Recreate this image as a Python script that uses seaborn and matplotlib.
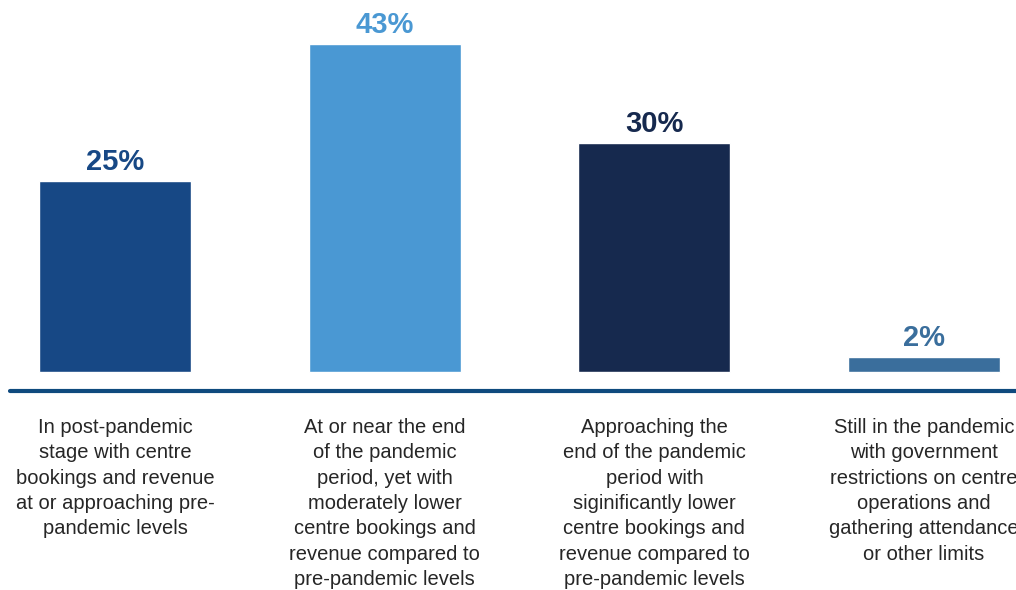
import matplotlib
matplotlib.use("Agg")
import matplotlib.pyplot as plt
import seaborn as sns
import pandas as pd

categories = [
    "In post-pandemic\nstage with centre\nbookings and revenue\nat or approaching pre-\npandemic levels",
    "At or near the end\nof the pandemic\nperiod, yet with\nmoderately lower\ncentre bookings and\nrevenue compared to\npre-pandemic levels",
    "Approaching the\nend of the pandemic\nperiod with\nsiginificantly lower\ncentre bookings and\nrevenue compared to\npre-pandemic levels",
    "Still in the pandemic\nwith government\nrestrictions on centre\noperations and\ngathering attendance\nor other limits",
]
shares = [25, 43, 30, 2]
bar_colors = ["#174885", "#4a98d3", "#16294e", "#3a6e9c"]

sns.set_theme(style="white")
plt.rcParams["font.family"] = ["Liberation Sans", "DejaVu Sans"]

W, H = 1016, 590
fig = plt.figure(figsize=(W / 100, H / 100), dpi=100)

# axes span the full width; value 0 sits at pixel row 372
px_per_unit = 7.63
y_zero = 372
ax_bottom_px = 400
ax = fig.add_axes([0, (H - ax_bottom_px) / H, 1, ax_bottom_px / H])

df = pd.DataFrame({"cat": categories, "share": shares})
sns.barplot(data=df, x="cat", y="share", hue="cat", palette=bar_colors,
            legend=False, width=152 / 269.67, saturation=1, ax=ax)

step = 269.67
c0 = 115
ax.set_xlim(-c0 / step, (W - c0) / step)
ax.set_ylim(-(ax_bottom_px - y_zero) / px_per_unit, y_zero / px_per_unit)

for i, (v, col) in enumerate(zip(shares, bar_colors)):
    ax.annotate(f"{v}%", (i, v), xytext=(0, 3.5), textcoords="offset points",
                ha="center", va="bottom", fontsize=21, fontweight="bold",
                color=col)

# baseline rule below the bars
ax.axhline(-(391 - y_zero) / px_per_unit, xmin=10 / W, xmax=1,
           color="#0f4a7e", lw=3, clip_on=False)

ax.set_xlabel("")
ax.set_ylabel("")
ax.set_yticks([])
ax.tick_params(axis="x", length=0, pad=13)
for lab in ax.get_xticklabels():
    lab.set_fontsize(14.5)
    lab.set_color("#262626")
    lab.set_linespacing(1.42)
    lab.set_verticalalignment("top")
for s in ax.spines.values():
    s.set_visible(False)

fig.savefig("out.png", dpi=100)
